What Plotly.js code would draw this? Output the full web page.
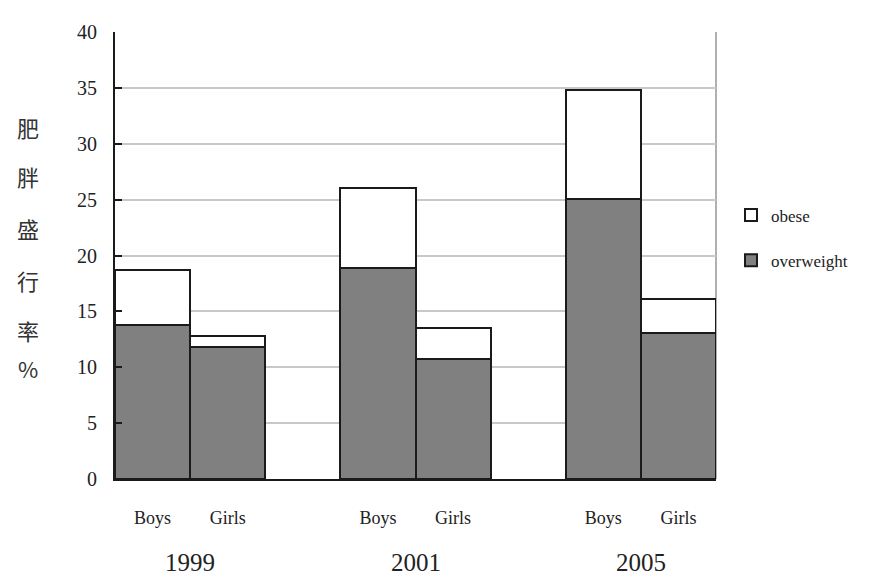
<!DOCTYPE html>
<html>
<head>
<meta charset="utf-8">
<script src="https://cdn.plot.ly/plotly-3.0.1.min.js"></script>
<style>html,body{margin:0;padding:0;background:#fff;}#chart{width:883px;height:579px;}</style>
</head>
<body>
<div id="chart"></div>
<script>
// ---- data ----
const years = ["1999", "2001", "2005"];
const sexes = ["Boys", "Girls"];
const overweight = [13.8, 11.8, 18.9, 10.7, 25.1, 13.1];
const obese = [4.9, 1.0, 7.1, 2.8, 9.7, 3.0];
const yTitleChars = ["肥", "胖", "盛", "行", "率", "%"];
const yTicks = [0, 5, 10, 15, 20, 25, 30, 35, 40];

// positions: each year group has two bars then an empty slot
const xs = [], labels = [];
years.forEach((y, g) => sexes.forEach((s, i) => { xs.push(g * 3 + i); labels.push(s); }));
const groupCenters = years.map((y, g) => g * 3 + 0.5);

const serif = "Liberation Serif, Times New Roman, serif";

const traces = [
  { type: "bar", name: "overweight", x: xs, y: overweight, width: 1,
    marker: { color: "#808080", line: { color: "#1a1a1a", width: 2 } },
    legendgroup: "b", legendrank: 2, hoverinfo: "y" },
  { type: "bar", name: "obese", x: xs, y: obese, width: 1,
    marker: { color: "#ffffff", line: { color: "#1a1a1a", width: 2 } },
    legendgroup: "a", legendrank: 1, hoverinfo: "y" }
];

const annotations = [];
groupCenters.forEach((c, g) => annotations.push({
  x: c, y: -0.187, xref: "x", yref: "paper", text: years[g], showarrow: false,
  font: { family: serif, size: 25, color: "#222" }, xanchor: "center", yanchor: "middle"
}));
const charY = [127, 176, 228, 280, 330, 368];
yTitleChars.forEach((ch, i) => annotations.push({
  x: -0.145, y: 1 - (charY[i] - 32) / 447, xref: "paper", yref: "paper", text: ch, showarrow: false,
  font: { family: "Noto Sans CJK TC, Noto Sans CJK SC, sans-serif", size: 22, color: "#333" },
  xanchor: "center", yanchor: "middle"
}));

const layout = {
  width: 883, height: 579,
  margin: { l: 115, r: 167, t: 32, b: 100 },
  paper_bgcolor: "#fff", plot_bgcolor: "#fff",
  barmode: "stack", bargap: 0,
  showlegend: true,
  legend: {
    x: 1.025, y: 0.539, xanchor: "left", yanchor: "middle",
    traceorder: "grouped", tracegroupgap: 20,
    font: { family: serif, size: 17, color: "#222" },
    itemwidth: 30, bgcolor: "rgba(0,0,0,0)"
  },
  xaxis: {
    range: [-0.5, 7.5], tickmode: "array", tickvals: xs, ticktext: labels,
    ticks: "", showgrid: false, zeroline: false,
    showline: true, linecolor: "#1a1a1a", linewidth: 2,
    tickfont: { family: serif, size: 18, color: "#222" }, ticklabelstandoff: 21
  },
  yaxis: {
    range: [0, 40], tickmode: "array", tickvals: yTicks,
    ticks: "inside", ticklen: 7, tickcolor: "#1a1a1a", tickwidth: 2,
    showgrid: true, gridcolor: "#c8c8c8", gridwidth: 2, zeroline: false,
    showline: true, linecolor: "#1a1a1a", linewidth: 2,
    tickfont: { family: serif, size: 20, color: "#222" }, ticklabelstandoff: 12
  },
  shapes: [
    { type: "line", xref: "paper", yref: "paper", x0: 1, x1: 1, y0: 0, y1: 1,
      line: { color: "#b0b0b0", width: 2 }, layer: "below" }
  ],
  annotations: annotations
};

Plotly.newPlot("chart", traces, layout, { displayModeBar: false, staticPlot: true });
</script>
</body>
</html>
